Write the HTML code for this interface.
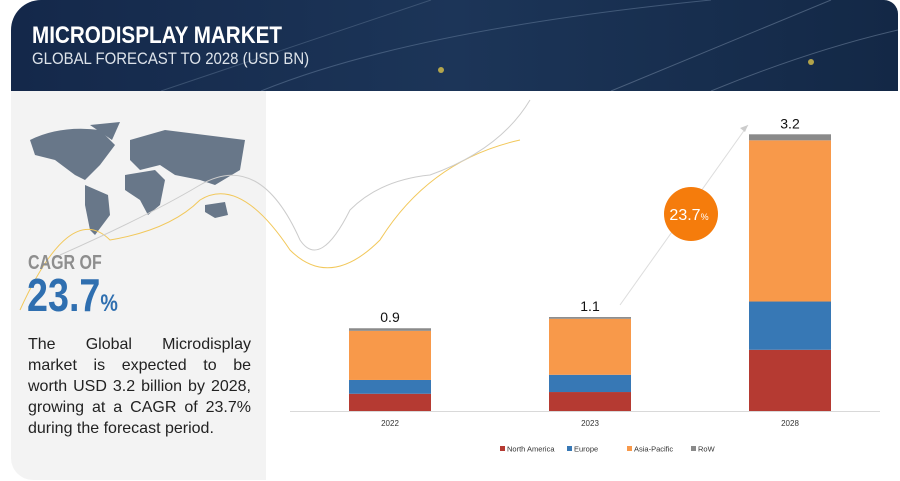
<!DOCTYPE html>
<html><head><meta charset="utf-8"><style>
body{margin:0;width:900px;height:481px;background:#fff;font-family:"Liberation Sans",sans-serif;overflow:hidden;position:relative}
.hdr{position:absolute;left:11px;top:0;width:887px;height:91px;background:linear-gradient(90deg,#14284a,#1c3558 50%,#132846);border-top-left-radius:30px;border-top-right-radius:14px;overflow:hidden}
.t1{position:absolute;left:21px;top:22px;color:#fff;font:bold 24px "Liberation Sans",sans-serif;transform:scaleX(.86);transform-origin:0 0;white-space:nowrap}
.t2{position:absolute;left:21px;top:49px;color:#dde3ea;font:17px "Liberation Sans",sans-serif;transform:scaleX(.88);transform-origin:0 0;white-space:nowrap}
.left{position:absolute;left:11px;top:91px;width:255px;height:389px;background:#f3f3f3;border-bottom-left-radius:22px}
.cagr{position:absolute;left:28px;top:252px;color:#8e8e8e;font:bold 20px "Liberation Sans",sans-serif;transform:scaleX(.8);transform-origin:0 0;white-space:nowrap}
.big{position:absolute;left:27px;top:268px;color:#2f6fb0;font:bold 46px "Liberation Sans",sans-serif;transform:scaleX(.82);transform-origin:0 0;white-space:nowrap}
.big span{font-size:24px}
.desc{position:absolute;left:28px;top:334px;width:223px;font-size:16px;line-height:21px;color:#222}
.desc div{text-align:justify;text-align-last:justify;white-space:nowrap}
.desc div.l{text-align-last:left}
</style></head><body>
<div class="hdr">
<svg width="887" height="91" style="position:absolute;left:0;top:0">
<path d="M150 91 L420 0" stroke="#5c7390" stroke-width="1" opacity=".5"/>
<path d="M250 91 Q400 30 700 0" stroke="#6a82a0" stroke-width="1" fill="none" opacity=".5"/>
<path d="M600 91 L820 0" stroke="#7a8ea8" stroke-width="1" opacity=".5"/>
<path d="M700 91 Q800 50 887 30" stroke="#7a8ea8" stroke-width="1" fill="none" opacity=".5"/>
<circle cx="430" cy="70" r="3" fill="#d9c24a" opacity=".8"/>
<circle cx="800" cy="62" r="3" fill="#d9c24a" opacity=".8"/>
</svg>
<div class="t1">MICRODISPLAY MARKET</div>
<div class="t2">GLOBAL FORECAST TO 2028 (USD BN)</div>
</div>
<div class="left"></div>
<svg width="900" height="481" style="position:absolute;left:0;top:0">
<g fill="#687789">
<path d="M30 140 Q60 125 100 130 L115 145 L100 165 L85 180 L75 175 L55 160 L35 155Z"/>
<path d="M90 125 L120 122 L112 140Z"/>
<path d="M85 185 L108 195 L110 215 L95 235 L90 230 L85 205Z"/>
<path d="M130 140 L165 130 L245 140 L240 170 L215 185 L200 180 L175 175 L160 165 L140 170 L130 160Z"/>
<path d="M125 175 L155 170 L165 180 L160 205 L148 215 L140 200 L125 190Z"/>
<path d="M205 205 L225 202 L228 215 L215 218 L205 212Z"/>
</g>
<path d="M20 310 Q70 200 110 240 Q170 230 200 200 Q240 175 290 250 Q330 290 380 240 Q430 160 520 140" stroke="#f2c85b" stroke-width="1" fill="none"/>
<path d="M60 255 Q150 215 200 185 Q260 150 300 240 Q320 270 350 210 Q380 180 430 175 Q500 150 530 100" stroke="#cccccc" stroke-width="1" fill="none"/>
<g id="chart"></g>
</svg>
<div class="cagr">CAGR OF</div>
<div class="big">23.7<span>%</span></div>
<div class="desc"><div>The Global Microdisplay</div><div>market is expected to be</div><div>worth USD 3.2 billion by 2028,</div><div>growing at a CAGR of 23.7%</div><div class="l">during the forecast period.</div></div>
<script>
const categories=["2022","2023","2028"];
const totals=["0.9","1.1","3.2"];
const northAmerica=[0.20,0.22,0.71];
const europe=[0.16,0.20,0.56];
const asiaPacific=[0.57,0.65,1.87];
const row=[0.03,0.02,0.07];
const seriesNames=["North America","Europe","Asia-Pacific","RoW"];
const colors=["#b53a32","#3778b5","#f8994a","#8a8a8a"];
const series=[northAmerica,europe,asiaPacific,row];
const NS="http://www.w3.org/2000/svg";
const g=document.getElementById("chart");
const base=411,ppu=86.2,bw=82;
const xC=i=>390+i*200;
const yS=v=>base-v*ppu;
function mk(t,a){const e=document.createElementNS(NS,t);for(const k in a)e.setAttribute(k,a[k]);g.appendChild(e);return e;}
const ax=mk("line",{x1:290,x2:880,y1:base+0.5,y2:base+0.5,stroke:"#d9d9d9"});


categories.forEach((c,i)=>{
 let acc=0;
 series.forEach((s,j)=>{
  const r=mk("rect",{x:xC(i)-bw/2,y:yS(acc+s[i]),width:bw,height:s[i]*ppu,fill:colors[j]});
  
  
  acc+=s[i];
 });
 const tl=mk("text",{x:xC(i),y:yS(acc)-6,"text-anchor":"middle","font-size":"14","font-family":"Liberation Sans, sans-serif",fill:"#111"});
 tl.textContent=totals[i];
 
 
 const xl=mk("text",{x:xC(i),y:426,"text-anchor":"middle","font-size":"8","font-family":"Liberation Sans, sans-serif",fill:"#333"});
 xl.textContent=c;
 
 
});
const arr=mk("line",{x1:620,y1:305,x2:748,y2:125,stroke:"#ddd","stroke-width":1});


const ah=mk("path",{d:"M748 125 L740 128 L745 132Z",fill:"#ccc"});


const cc=mk("circle",{cx:691,cy:214,r:27,fill:"#f57c0c"});


const ct=mk("text",{x:689,y:220,"text-anchor":"middle","font-size":"16","font-family":"Liberation Sans, sans-serif",fill:"#fff"});
ct.innerHTML='23.7<tspan font-size="9">%</tspan>';


const lx=[500,567,627,691];
seriesNames.forEach((n,j)=>{
 const r=mk("rect",{x:lx[j],y:446,width:5,height:5,fill:colors[j]});
 
 
 const t=mk("text",{x:lx[j]+7,y:451.5,"font-size":"7.5","font-family":"Liberation Sans, sans-serif",fill:"#333"});
 t.textContent=n;
 
 
});
</script>
</body></html>
